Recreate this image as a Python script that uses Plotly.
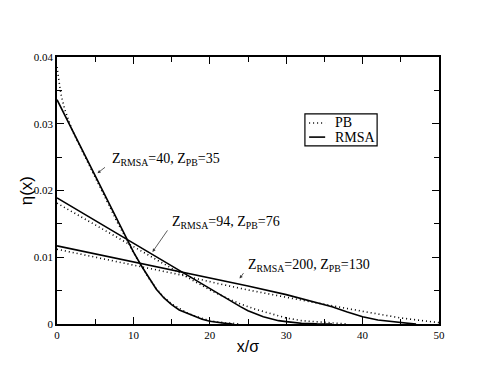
import plotly.graph_objects as go

# Z_RMSA=40, Z_PB=35
x_a = [0, 2, 4, 6, 8, 9.1, 10, 11, 12, 13, 14, 15, 16, 17, 18, 19, 20, 21, 22, 23]
rmsa_a = [0.0336, 0.0290, 0.0244, 0.0198, 0.0152, 0.0128, 0.0108, 0.0088, 0.0069, 0.0052,
          0.0039, 0.0029, 0.0021, 0.0016, 0.0011, 0.0007, 0.0004, 0.0002, 0.0001, 0.0]
xpb_a = [0, 0.2, 0.5, 1, 2, 4, 6, 8, 9.1, 10, 11, 12, 13, 14, 15, 16, 17, 18, 19, 20, 21, 22, 23, 24]
pb_a = [0.0385, 0.0366, 0.0345, 0.0322, 0.0290, 0.0243, 0.0196, 0.0150, 0.0127, 0.0107, 0.0088,
        0.0069, 0.0053, 0.0040, 0.0030, 0.0023, 0.0017, 0.0012, 0.0008, 0.0005, 0.0003, 0.0002,
        0.0001, 0.0]

# Z_RMSA=94, Z_PB=76
x_b = [0, 5, 9, 12, 16, 20, 22, 23, 24, 25, 26, 27, 28, 29, 30, 31, 32, 34, 36]
rmsa_b = [0.0189, 0.0155, 0.0128, 0.0107, 0.0080, 0.0052, 0.0039, 0.0032, 0.0026, 0.0020,
          0.0015, 0.0011, 0.0008, 0.0005, 0.00035, 0.0002, 0.0001, 0.00002, 0.0]
x_pb_b = [0, 5, 9, 12, 16, 20, 22, 24, 26, 28, 30, 32, 34, 36, 38]
pb_b = [0.0181, 0.0149, 0.0123, 0.0103, 0.0077, 0.0051, 0.0040, 0.0030, 0.0022, 0.0015,
        0.0009, 0.0005, 0.0003, 0.0001, 0.0]

# Z_RMSA=200, Z_PB=130
x_c = [0, 5, 10, 16, 21, 25, 30, 36, 38, 40, 42, 44, 46, 47]
rmsa_c = [0.0117, 0.0105, 0.0093, 0.0079, 0.0067, 0.0057, 0.0044, 0.0026, 0.0018, 0.0011,
          0.0006, 0.0003, 0.0001, 0.0]
x_pb_c = [0, 5, 10, 16, 21.3, 25, 30, 35, 40, 45, 48.8, 50]
pb_c = [0.0112, 0.0100, 0.0088, 0.0074, 0.0060, 0.0051, 0.0040, 0.0029, 0.0019, 0.0009,
        0.00035, 0.0002]

y_ticks = [0, 0.01, 0.02, 0.03, 0.04]
y_ticktext = ['0', '0.01', '0.02', '0.03', '0.04']

labels = ['Z<sub>RMSA</sub>=40, Z<sub>PB</sub>=35',
          'Z<sub>RMSA</sub>=94, Z<sub>PB</sub>=76',
          'Z<sub>RMSA</sub>=200, Z<sub>PB</sub>=130']
label_x = [7.0, 14.85, 24.8]
label_y = [0.0247, 0.0152, 0.0087]
arrow_tip_x = [5.3, 12.5, 23.9]
arrow_tip_y = [0.0226, 0.0108, 0.0068]
arrow_offsets = [(9, -7), (16, -23), (5, -7)]

legend_names = ['PB', 'RMSA']
legend_dash = ['1px,3px', 'solid']

serif = 'Liberation Serif, Times New Roman, Times, serif'
sans = 'Liberation Sans, Arial, Helvetica, sans-serif'
fig = go.Figure()

pb_sets = [(xpb_a, pb_a), (x_pb_b, pb_b), (x_pb_c, pb_c)]
rmsa_sets = [(x_a, rmsa_a), (x_b, rmsa_b), (x_c, rmsa_c)]

for xx, yy in pb_sets:
    fig.add_trace(go.Scatter(x=xx, y=yy, mode='lines', name='PB', showlegend=False,
                             line=dict(color='black', width=1.6, dash='1px,3px')))
for xx, yy in rmsa_sets:
    fig.add_trace(go.Scatter(x=xx, y=yy, mode='lines', name='RMSA', showlegend=False,
                             line=dict(color='black', width=1.6)))

for t, lx, ly in zip(labels, label_x, label_y):
    fig.add_annotation(x=lx, y=ly, text=t, showarrow=False, xanchor='left', yanchor='middle',
                       font=dict(family=serif, size=14, color='black'))

for tx, ty, (ax, ay) in zip(arrow_tip_x, arrow_tip_y, arrow_offsets):
    fig.add_annotation(x=tx, y=ty, ax=ax, ay=ay, text='', showarrow=True, arrowhead=2,
                       arrowsize=0.8, arrowwidth=0.8, arrowcolor='#333')

# legend box drawn by hand so it stays compact like the original
fig.add_shape(type='rect', xref='paper', yref='paper', x0=0.649, x1=0.838, y0=0.667, y1=0.787,
              line=dict(color='black', width=1.2), fillcolor='white', layer='above')
for i, (nm, ds) in enumerate(zip(legend_names, legend_dash)):
    yy = 0.753 - i * 0.053
    fig.add_shape(type='line', xref='paper', yref='paper', x0=0.660, x1=0.702, y0=yy, y1=yy,
                  line=dict(color='black', width=1.6, dash=ds), layer='above')
    fig.add_annotation(xref='paper', yref='paper', x=0.722, y=yy, text=nm, showarrow=False,
                       xanchor='left', yanchor='middle',
                       font=dict(family=serif, size=14, color='black'))

# y title as annotation to sit a bit closer to the tick labels
fig.add_annotation(xref='paper', yref='paper', x=-0.079, y=0.5, text='η(x)', textangle=-90,
                   showarrow=False, xanchor='center', yanchor='middle',
                   font=dict(family=sans, size=17, color='black'))

axis_style = dict(showline=True, linecolor='black', linewidth=1.5, mirror='ticks',
                  ticks='inside', ticklen=7, tickwidth=1.2, tickcolor='black',
                  showgrid=False, zeroline=False,
                  tickfont=dict(family=serif, size=11, color='black'))

fig.update_xaxes(range=[0, 50], dtick=10,
                 minor=dict(ticks='inside', dtick=5, ticklen=5, tickcolor='black', tickwidth=1.2),
                 title=dict(text='x/σ', font=dict(family=sans, size=16, color='black'),
                            standoff=1),
                 **axis_style)
fig.update_yaxes(range=[0, 0.04], tickvals=y_ticks, ticktext=y_ticktext,
                 minor=dict(ticks='inside', dtick=0.005, ticklen=5, tickcolor='black', tickwidth=1.2),
                 **axis_style)

fig.update_layout(width=494, height=382, plot_bgcolor='white', paper_bgcolor='white',
                  margin=dict(l=49, r=63, t=49, b=66), showlegend=False)

fig.write_html("out.html")
